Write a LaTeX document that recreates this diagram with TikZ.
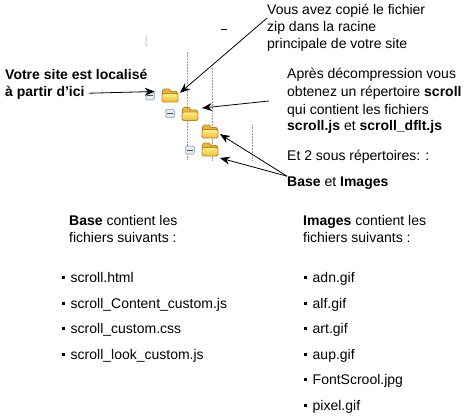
\documentclass[tikz,border=0pt]{standalone}
\usepackage{fontspec}
\setmainfont{Liberation Sans}
\usetikzlibrary{arrows.meta}

\definecolor{folderedge}{HTML}{C08420}
\definecolor{folderback}{HTML}{E8B440}
\definecolor{foldertop}{HTML}{FFEE90}
\definecolor{folderbottom}{HTML}{F0BC30}
\definecolor{boxedge}{HTML}{9DB8D2}

\newcommand{\puce}{\rule[3.5pt]{2.8pt}{2.8pt}\hspace{5.7pt}}

\tikzset{
    txt/.style={anchor=base west, inner sep=0pt, font=\fontsize{14}{16}\selectfont},
    arrow/.style={draw=black, line width=0.8pt, -{Stealth[length=10pt,width=8pt]}},
    guide/.style={draw=gray!80, line width=0.5pt, densely dotted},
    minusbox/.style={draw=boxedge, fill=gray!15, line width=1pt, rounded corners=1pt, minimum width=8.5pt, minimum height=8pt, inner sep=0pt},
    folderbox/.style={minimum width=16pt, minimum height=13pt, inner sep=0pt, outer sep=2pt},
    folderline/.style={draw=folderedge, line width=0.8pt, line join=round},
}

\begin{document}
\begin{tikzpicture}[x=1pt,y=-1pt]
    \path[use as bounding box, fill=white] (0,0) rectangle (468,417);

    % Draw the dotted guides
    \draw[guide] (187,52) -- (187,160);
    \draw[guide] (212,68) -- (212,160);
    \draw[guide] (252,125) -- (252,160);

    % Stray marks at the top
    \draw[boxedge, line width=0.8pt] (146.5,37) -- (146,39) -- (146,44) -- (146.5,46);
    \draw[black, line width=0.6pt] (221,29.5) -- (227,29.5);

    % Draw the folders
    \foreach \name/\x/\y in {root/170/95.5, scroll/190/114, base/210/131.5, images/210/149.5}{
        \node[folderbox] (\name) at (\x,\y) {};
        \begin{scope}[shift={(\x,\y)}]
            \filldraw[folderline, fill=folderback] (-7.5,4) -- (-7.5,-4.5) -- (-6,-6.5) -- (-1,-6.5) -- (1,-4) -- (6,-4) -- (7.5,-2.5) -- (7.5,4) -- cycle;
            \draw[folderline, top color=foldertop, bottom color=folderbottom, rounded corners=1.5pt] (-8,-2) rectangle (8,6.5);
        \end{scope}
    }

    % Draw the expanders
    \foreach \name/\x/\y in {boxroot/150/96, boxscroll/170/113.5, boximages/190/150}{
        \node[minusbox] (\name) at (\x,\y) {};
        \draw[black!70, line width=1pt] (\x-3,\y) -- (\x+3,\y);
    }

    % Left label
    \node[txt] (site) at (5,80) {\bfseries Votre site est localisé};
    \node[txt] (ici) at (5,97) {\bfseries à partir d’ici};

    % Top label
    \node[txt] (copy) at (267,15) {Vous avez copié le fichier};
    \node[txt] (zip) at (267,32) {zip dans la racine};
    \node[txt] (princ) at (267,49) {principale de votre site};

    % Right labels
    \node[txt] (apres) at (287,79) {Après décompression vous};
    \node[txt] (obtenez) at (287,97) {obtenez un répertoire \textbf{scroll}};
    \node[txt] (contient) at (287,114) {qui contient les fichiers};
    \node[txt] (js) at (287,131) {\textbf{scroll.js} et \textbf{scroll\_dflt.js}};
    \node[txt] (sous) at (287,160) {Et 2 sous répertoires: :};
    \node[txt] (dossiers) at (287,186) {\textbf{Base} et \textbf{Images}};

    % Arrows
    \coordinate (scrollfrom) at (269,101);
    \draw[arrow] (copy.south west) -- (root.15);
    \draw[arrow, shorten <=4pt] (ici.east) -- (boxroot.north east);
    \draw[arrow, shorten >=2pt] (scrollfrom) -- (scroll.30);
    \draw[arrow] (dossiers.north west) -- (base.-15);
    \draw[arrow] (dossiers.north west) -- (images.south east);

    % Base column
    \node[txt] (basetitle) at (69,225) {\textbf{Base} contient les};
    \node[txt] (basesuite) at (69,242) {fichiers suivants :};
    \foreach \i/\y/\f in {1/282/scroll.html, 2/308/scroll\_Content\_custom.js, 3/333/scroll\_custom.css, 4/359/scroll\_look\_custom.js}{
        \node[txt] (basefile\i) at (62,\y) {\puce\f};
    }

    % Images column
    \node[txt] (imgtitle) at (303,225) {\textbf{Images} contient les};
    \node[txt] (imgsuite) at (303,242) {fichiers suivants :};
    \foreach \i/\y/\f in {1/282/adn.gif, 2/308/alf.gif, 3/333/art.gif, 4/359/aup.gif, 5/384/FontScrool.jpg, 6/410/pixel.gif}{
        \node[txt] (imgfile\i) at (304,\y) {\puce\f};
    }
\end{tikzpicture}
\end{document}
